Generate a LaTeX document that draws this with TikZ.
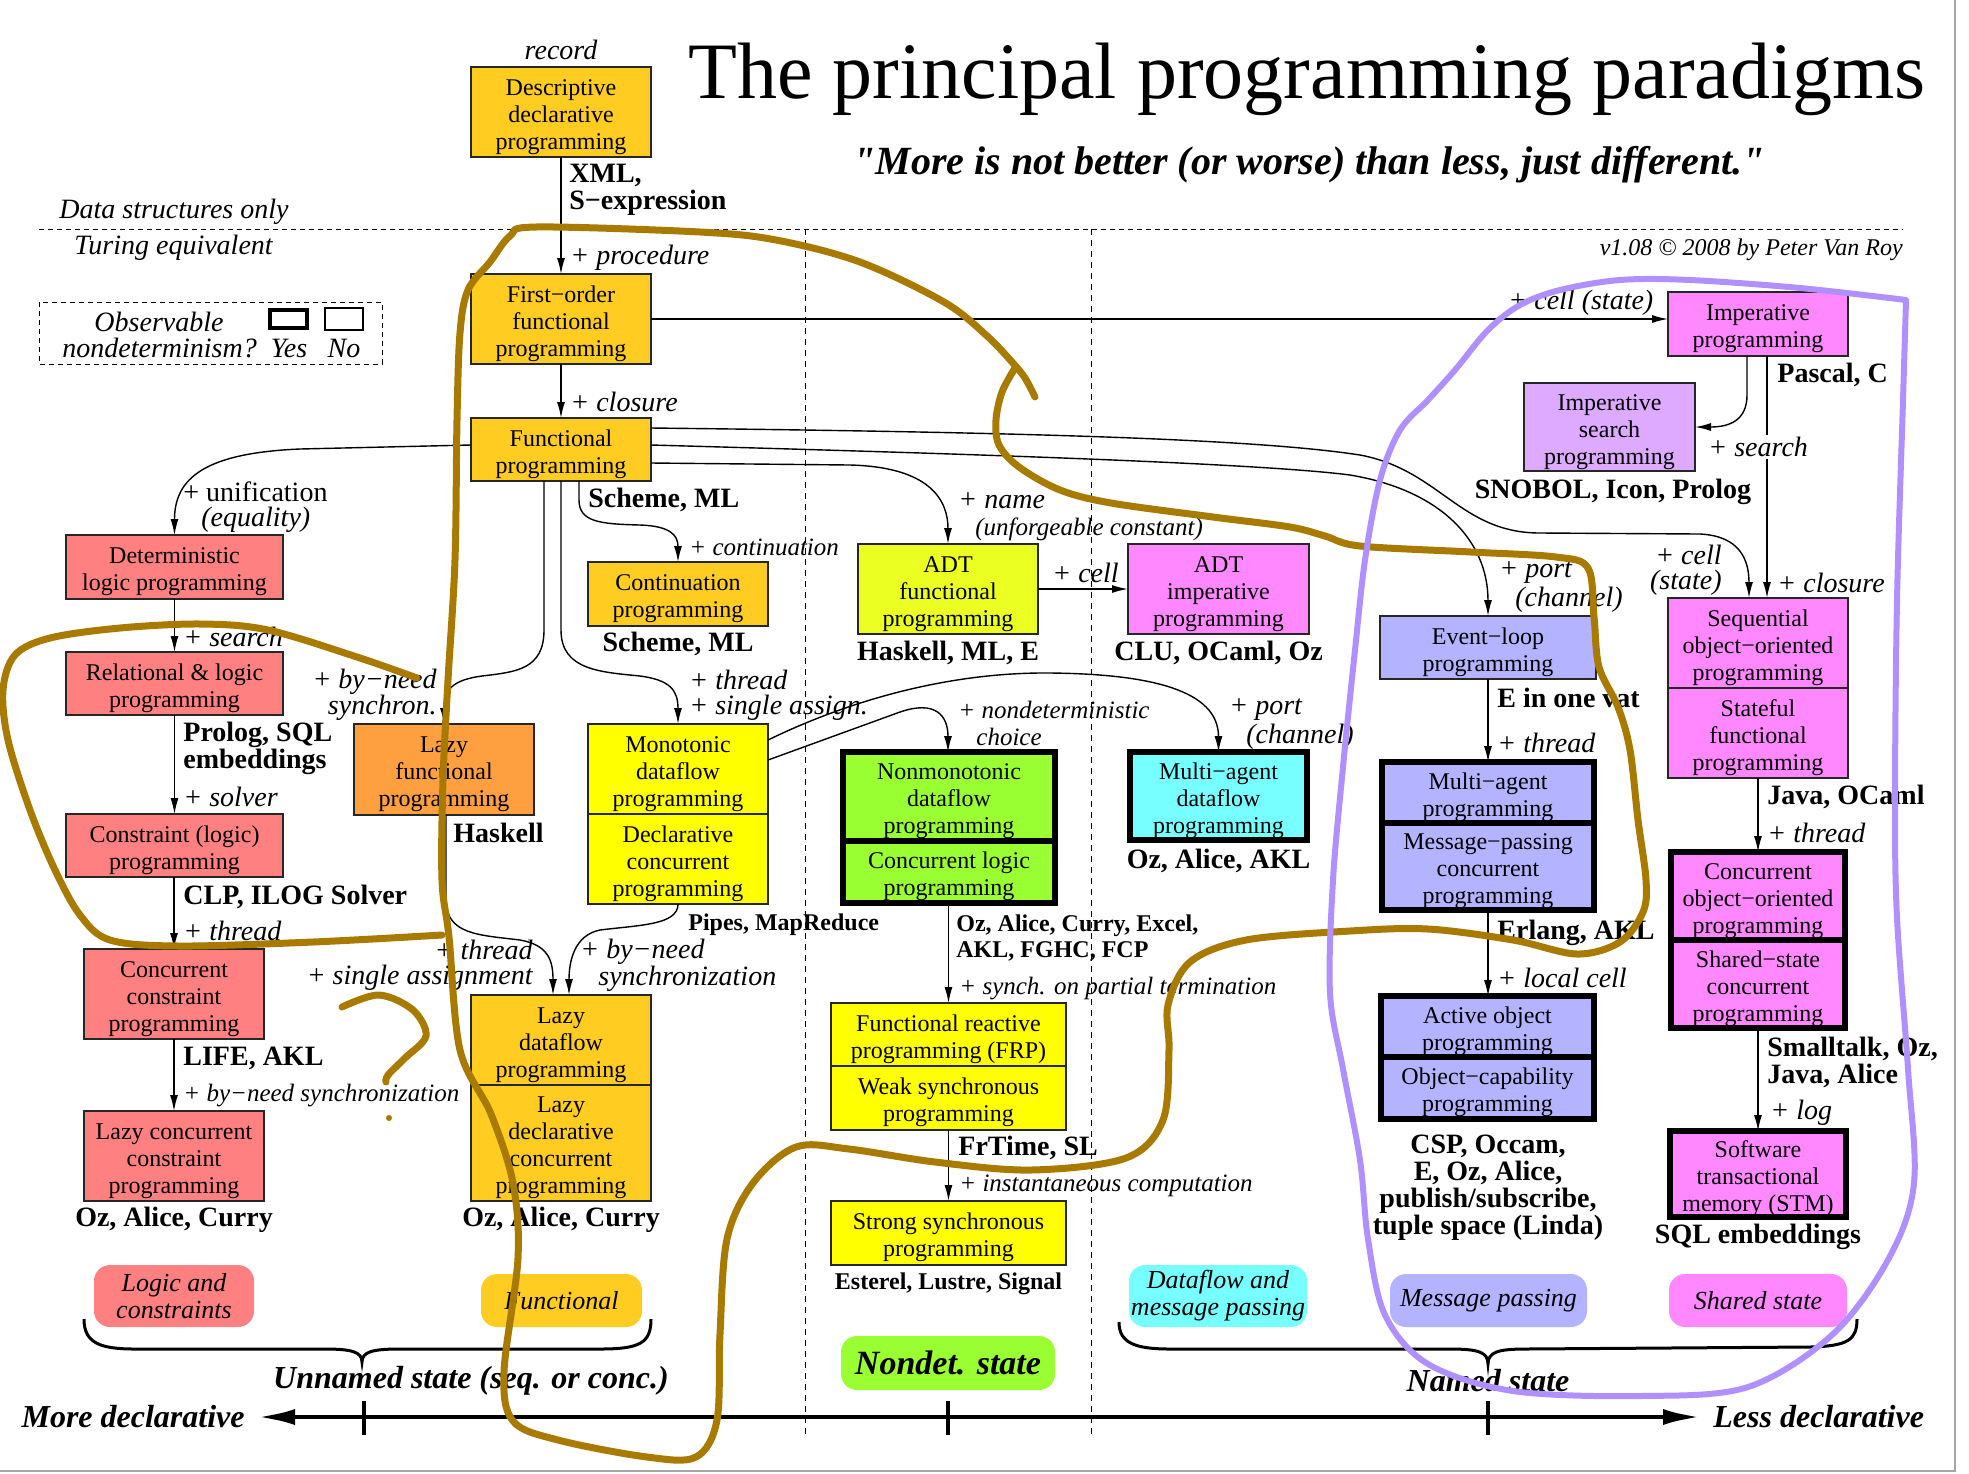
\documentclass[tikz,border=0pt]{standalone}
\usepackage{fontspec}
\setmainfont{Liberation Serif}
\usetikzlibrary{arrows.meta}
\definecolor{cgold}{RGB}{255,204,34}
\definecolor{corange}{RGB}{255,160,64}
\definecolor{cred}{RGB}{255,128,128}
\definecolor{cyel}{RGB}{255,255,0}
\definecolor{cyg}{RGB}{235,255,34}
\definecolor{cmag}{RGB}{255,136,255}
\definecolor{clpur}{RGB}{221,170,255}
\definecolor{clav}{RGB}{179,179,255}
\definecolor{cgreen}{RGB}{153,255,51}
\definecolor{ccyan}{RGB}{119,255,255}
\definecolor{cbrown}{RGB}{168,122,0}
\definecolor{cpurple}{RGB}{176,144,255}
\newcommand\sq{\XeTeXglyph\XeTeXglyphindex "quotedbl"\relax}
\newcommand\T{\rule{0pt}{13pt}}
\tikzset{
  bx/.style={draw=black!85, line width=0.8pt, inner sep=0pt, outer sep=0pt, align=center, font=\fontsize{12pt}{13.5pt}\selectfont},
  tk/.style={draw=black, line width=3pt},
  sz/.style 2 args={minimum width=#1*0.5pt, minimum height=#2*0.5pt},
  ar/.style={-{Latex[length=8pt,width=4pt]}, line width=0.7pt},
  lab/.style={inner sep=0pt, font=\fontsize{14pt}{14pt}\selectfont\itshape},
  rlab/.style={inner sep=0pt, font=\fontsize{14pt}{14pt}\selectfont},
  slab/.style={inner sep=0pt, font=\fontsize{12.5pt}{13.5pt}\selectfont\itshape},
  bl/.style={inner sep=0pt, font=\fontsize{14pt}{13.5pt}\selectfont\bfseries},
  sbl/.style={inner sep=0pt, font=\fontsize{12pt}{13pt}\selectfont\bfseries},
  cat/.style={rounded corners=8pt, inner sep=0pt, align=center, font=\fontsize{13pt}{13.5pt}\selectfont\itshape},
  big/.style={inner sep=0pt, font=\fontsize{16pt}{18pt}\selectfont\bfseries\itshape},
  hand/.style={line width=3.5pt, line cap=round, line join=round, cbrown},
  handp/.style={line width=3pt, line cap=round, line join=round, cpurple}
}
\begin{document}
\begin{tikzpicture}[x=0.5pt,y=-0.5pt]
\useasboundingbox (0,0) rectangle (1969,1473);
% frame
\draw[gray!70, line width=0.6pt] (1955,0) -- (1955,1471) -- (0,1471);
% dashed separators
\draw[line width=0.5pt, dash pattern=on 2.5pt off 2pt] (39,229) -- (1903,229);
\draw[line width=0.5pt, dash pattern=on 3pt off 2.5pt] (805,229) -- (805,1435);
\draw[line width=0.5pt, dash pattern=on 3pt off 2.5pt] (1091,229) -- (1091,1435);

% title
\node[anchor=base west, inner sep=0pt, font=\fontsize{40pt}{44pt}\selectfont] (title) at (688,98) {The principal programming paradigms};
\node[anchor=base, inner sep=0pt, font=\fontsize{20pt}{22pt}\selectfont\bfseries\itshape] (subtitle) at (1309,174) {\sq More is not better (or worse) than less, just different.\sq};
\node[anchor=east, inner sep=0pt, font=\fontsize{12pt}{13pt}\selectfont\itshape] (credit) at (1903,250) {v1.08 © 2008 by Peter Van Roy};
\node[lab, anchor=west] (dso) at (59,212) {Data structures only};
\node[lab, anchor=west] (teq) at (74,248) {Turing equivalent};

% legend
\draw[line width=0.5pt, dash pattern=on 2.5pt off 2pt] (39,302) rectangle (382,364);
\node[lab] (obs) at (159,322) {Observable};
\node[lab, anchor=west] (nondet) at (62,348) {nondeterminism?};
\node[lab] (yes) at (289,348) {Yes};
\node[lab] (no) at (344,348) {No};
\node[draw, line width=2.2pt, inner sep=0pt, sz={37}{18}] (yesbox) at (288.5,319) {};
\node[draw, line width=0.6pt, inner sep=0pt, sz={38}{22}] (nobox) at (344,319) {};

% boxes
\node[bx, fill=cgold, sz={180}{90}] (desc) at (561,112) {\T Descriptive\\declarative\\programming};
\node[lab] (record) at (561,50) {record};
\node[bx, fill=cgold, sz={180}{90}] (fo) at (561,319) {\T First−order\\functional\\programming};
\node[bx, fill=cgold, sz={180}{63}] (func) at (561,449.5) {\T Functional\\programming};
\node[bx, fill=cred, sz={217}{64}] (det) at (174.5,567) {\T Deterministic\\logic programming};
\node[bx, fill=cred, sz={217}{63}] (rel) at (174.5,683.5) {\T Relational \& logic\\programming};
\node[bx, fill=cred, sz={217}{63}] (cons) at (174.5,845.5) {\T Constraint (logic)\\programming};
\node[bx, fill=cred, sz={180}{90}] (ccp) at (174,994) {\T Concurrent\\constraint\\programming};
\node[bx, fill=cred, sz={180}{90}] (lccp) at (174,1156) {\T Lazy concurrent\\constraint\\programming};
\node[bx, fill=corange, sz={180}{91}] (lazyf) at (444,769.5) {\T Lazy\\functional\\programming};
\node[bx, fill=cgold, sz={180}{64}] (cont) at (678,594) {\T Continuation\\programming};
\node[bx, fill=cyel, sz={180}{90}] (mono) at (678,769) {\T Monotonic\\dataflow\\programming};
\node[bx, fill=cyel, sz={180}{90}] (declc) at (678,859) {\T Declarative\\concurrent\\programming};
\node[bx, fill=cgold, sz={180}{90}] (ldf) at (561,1040) {\T Lazy\\dataflow\\programming};
\node[bx, fill=cgold, sz={180}{116}] (ldc) at (561,1143) {\T Lazy\\declarative\\concurrent\\programming};
\node[bx, fill=cyg, sz={180}{90}] (adtf) at (948,589) {\T ADT\\functional\\programming};
\node[bx, fill=cmag, sz={181}{90}] (adti) at (1218.5,589) {\T ADT\\imperative\\programming};
\node[bx, tk, fill=cgreen, sz={212}{89}] (nonmono) at (949,796.5) {\T Nonmonotonic\\dataflow\\programming};
\node[bx, tk, fill=cgreen, sz={212}{62}] (conclog) at (949,872) {\T Concurrent logic\\programming};
\node[bx, tk, fill=ccyan, sz={177}{88}] (mad) at (1218.5,796) {\T Multi−agent\\dataflow\\programming};
\node[bx, fill=cyel, sz={235}{63}] (frp) at (948.5,1034.5) {\T Functional reactive\\programming (FRP)};
\node[bx, fill=cyel, sz={235}{64}] (weak) at (948.5,1098) {\T Weak synchronous\\programming};
\node[bx, fill=cyel, sz={235}{64}] (strong) at (948.5,1233) {\T Strong synchronous\\programming};
\node[bx, fill=cmag, sz={180}{64}] (imp) at (1758,324) {\T Imperative\\programming};
\node[bx, fill=clpur, sz={171}{88}] (imps) at (1609.5,427) {\T Imperative\\search\\programming};
\node[bx, fill=clav, sz={216}{63}] (evl) at (1488,647.5) {\T Event−loop\\programming};
\node[bx, fill=cmag, sz={180}{90}] (seqoo) at (1758,643) {\T Sequential\\object−oriented\\programming};
\node[bx, fill=cmag, sz={180}{90}] (sfp) at (1758,733) {\T Stateful\\functional\\programming};
\node[bx, tk, fill=clav, sz={212}{61}] (map) at (1488,792.5) {\T Multi−agent\\programming};
\node[bx, tk, fill=clav, sz={212}{87}] (mpc) at (1488,866.5) {\T Message−passing\\concurrent\\programming};
\node[bx, tk, fill=cmag, sz={174}{88}] (coo) at (1758,896) {\T Concurrent\\object−oriented\\programming};
\node[bx, tk, fill=cmag, sz={174}{88}] (sscp) at (1758,984) {\T Shared−state\\concurrent\\programming};
\node[bx, tk, fill=clav, sz={213}{61}] (aop) at (1487.5,1026.5) {\T Active object\\programming};
\node[bx, tk, fill=clav, sz={213}{62}] (ocp) at (1487.5,1088) {\T Object−capability\\programming};
\node[bx, tk, fill=cmag, sz={176}{86}] (stm) at (1758,1174) {\T Software\\transactional\\memory (STM)};

% connectors
\draw[ar] (desc) -- (fo);
\draw[ar] (fo) -- (func);
\draw[ar] (fo.east) -- (fo.east -| imp.west);
\draw[ar] (func.west |- 0,445) -- (300,449) .. controls (205,453) and (174.5,478) .. (det.north);
\draw[ar] (det) -- (rel);
\draw[ar] (rel) -- (cons);
\draw[ar] (cons.south -| ccp.north) -- (ccp.north);
\draw[ar] (ccp) -- (lccp);
\draw[ar] (func.south -| 579,0) -- (579,500) .. controls (579,522) and (600,524) .. (640,525) .. controls (670,526) and (678,535) .. (cont.north);
\draw[ar] (func.south) -- (561,630) .. controls (561,670) and (600,672) .. (640,676) .. controls (670,680) and (678,690) .. (mono.north);
\draw[ar] (func.south -| 544,0) -- (544,630) .. controls (544,670) and (515,672) .. (482,676) .. controls (452,680) and (444,690) .. (lazyf.north);
\draw[ar] (lazyf.south -| 446,0) -- (446,900) .. controls (446,935) and (480,935) .. (520,940) .. controls (548,945) and (553,960) .. (ldf.north -| 553,0);
\draw[ar] (declc.south) .. controls (678,925) and (640,925) .. (600,930) .. controls (575,935) and (569,960) .. (ldf.north -| 569,0);
\draw[ar] (func.east |- 0,463) -- (850,465) .. controls (930,467) and (948,500) .. (adtf.north);
\draw[ar] (adtf) -- (adti);
\draw[ar] (mono.east |- 0,760) -- (900,712) .. controls (935,700) and (948,715) .. (nonmono.north -| 948,0);
\draw[ar] (mono.east |- 0,740) .. controls (850,700) and (950,672) .. (1050,673) .. controls (1150,674) and (1218.5,690) .. (mad.north);
\draw[ar] (conclog.south -| frp.north) -- (frp.north);
\draw[ar] (weak) -- (strong);
\draw[ar] (func.east |- 0,445) .. controls (900,452) and (1250,462) .. (1350,475) .. controls (1440,490) and (1488,540) .. (evl.north);
\draw[ar] (func.east |- 0,428) .. controls (1000,432) and (1250,438) .. (1360,455) .. controls (1440,470) and (1460,533) .. (1540,533) -- (1700,534) .. controls (1740,536) and (1749,560) .. (seqoo.north -| 1749,0);
\draw[ar] (imp.south -| 1767,0) -- (seqoo.north -| 1767,0);
\draw[ar] (imp.south -| 1747,0) -- (1747,395) .. controls (1747,420) and (1730,427) .. (imps.east);
\draw[ar] (evl) -- (map);
\draw[ar] (mpc.south) -- (mpc.south |- aop.north);
\draw[ar] (sfp) -- (coo);
\draw[ar] (sscp) -- (stm);

% labels
\node[bl, anchor=west, align=left] (xml) at (569,190) {XML,\\S−expression};
\node[lab, anchor=west] (lproc) at (570,258) {+ procedure};
\node[lab, anchor=west] (lclos) at (570,402) {+ closure};
\node[rlab, anchor=west] (lunif) at (183,492) {+ unification};
\node[lab, anchor=west] (lequ) at (201,520) {(equality)};
\node[lab, anchor=west] (lsearch1) at (183,637) {+ search};
\node[bl, anchor=west, align=left] (prolog) at (183,748) {Prolog, SQL\\embeddings};
\node[lab, anchor=west] (lsolver) at (183,797) {+ solver};
\node[bl, anchor=west] (clp) at (183,897) {CLP, ILOG Solver};
\node[lab, anchor=west] (lthr1) at (183,931) {+ thread};
\node[bl, anchor=west] (life) at (183,1058) {LIFE, AKL};
\node[slab, anchor=west] (lbyneed1) at (183,1096) {+ by−need synchronization};
\node[bl] (ozac1) at (174,1220) {Oz, Alice, Curry};
\node[lab, anchor=east] (lbn2a) at (437,682) {+ by−need};
\node[lab, anchor=east] (lbn2b) at (437,708) {synchron.};
\node[bl, anchor=west] (haskell) at (453,833) {Haskell};
\node[bl, anchor=west] (schml1) at (588,500) {Scheme, ML};
\node[slab, anchor=west] (lcont) at (689,547) {+ continuation};
\node[bl] (schml2) at (678,644) {Scheme, ML};
\node[lab, anchor=west] (lthr2) at (689,680) {+ thread};
\node[lab, anchor=west] (lsa) at (689,708) {+ single assign.};
\node[lab, anchor=west] (lname) at (958,501) {+ name};
\node[slab, anchor=west] (lunf) at (975,529) {(unforgeable constant)};
\node[bl] (hmle) at (948,653) {Haskell, ML, E};
\node[lab, anchor=west] (lcell1) at (1052,573) {+ cell};
\node[bl] (clu) at (1218.5,653) {CLU, OCaml, Oz};
\node[slab, anchor=west] (lndc) at (958,710) {+ nondeterministic};
\node[slab, anchor=west] (lchoice) at (976,737) {choice};
\node[lab, anchor=west] (lport1) at (1229,710) {+ port};
\node[lab, anchor=west] (lchan1) at (1246,737) {(channel)};
\node[bl] (ozaakl) at (1218.5,861) {Oz, Alice, AKL};
\node[sbl, anchor=west] (pipes) at (688,925) {Pipes, MapReduce};
\node[sbl, anchor=west, align=left] (ozexcel) at (956,938) {Oz, Alice, Curry, Excel,\\AKL, FGHC, FCP};
\node[slab, anchor=west] (lsynch) at (959,989) {+ synch. on partial termination};
\node[bl, anchor=west] (frtime) at (958,1148) {FrTime, SL};
\node[slab, anchor=west] (linst) at (959,1186) {+ instantaneous computation};
\node[sbl] (esterel) at (948.5,1284) {Esterel, Lustre, Signal};
\node[lab, anchor=east] (lthr3) at (533,950) {+ thread};
\node[lab, anchor=east] (lsa2) at (533,978) {+ single assignment};
\node[lab, anchor=west] (lbn3a) at (580,952) {+ by−need};
\node[lab, anchor=west] (lbn3b) at (598,979) {synchronization};
\node[bl] (ozac2) at (561,1220) {Oz, Alice, Curry};
\node[lab, anchor=west] (lcellst) at (1508,303) {+ cell (state)};
\node[bl, anchor=west] (pascal) at (1777,375) {Pascal, C};
\node[lab, anchor=west, fill=white, inner sep=1pt] (lsearch2) at (1706,447) {+ search};
\node[bl] (snobol) at (1613,492) {SNOBOL, Icon, Prolog};
\node[lab, anchor=east] (lcell2) at (1722,555) {+ cell};
\node[lab, anchor=east] (lstate) at (1722,583) {(state)};
\node[lab, anchor=west] (lclos2) at (1777,583) {+ closure};
\node[lab, anchor=west] (lport2) at (1499,573) {+ port};
\node[lab, anchor=west] (lchan2) at (1515,600) {(channel)};
\node[bl, anchor=west] (evat) at (1497,698) {E in one vat};
\node[lab, anchor=west] (lthr4) at (1497,743) {+ thread};
\node[bl, anchor=west] (javaoc) at (1767,797) {Java, OCaml};
\node[lab, anchor=west] (lthr5) at (1767,833) {+ thread};
\node[bl, anchor=west] (erlang) at (1497,933) {Erlang, AKL};
\node[lab, anchor=west] (llocal) at (1497,978) {+ local cell};
\node[bl, align=center] (csp) at (1488,1188) {CSP, Occam,\\E, Oz, Alice,\\publish/subscribe,\\tuple space (Linda)};
\node[bl, anchor=west, align=left] (smalltalk) at (1767,1062) {Smalltalk, Oz,\\Java, Alice};
\node[lab, anchor=west] (llog) at (1770,1113) {+ log};
\node[bl] (sqlemb) at (1758,1237) {SQL embeddings};

% category tags
\node[cat, fill=cred, sz={160}{62}] (tlogic) at (174,1296) {Logic and\\constraints};
\node[cat, fill=cgold, sz={161}{53}] (tfunc) at (561.5,1300.5) {Functional};
\node[cat, fill=cgreen, sz={214}{54}, font=\fontsize{17pt}{18pt}\selectfont\bfseries\itshape] (tnondet) at (948,1363) {Nondet. state};
\node[cat, fill=ccyan, sz={178}{62}] (tdmp) at (1218,1296) {Dataflow and\\message passing};
\node[cat, fill=clav, sz={197}{53}] (tmp) at (1488.5,1300.5) {Message passing};
\node[cat, fill=cmag, sz={178}{53}] (tss) at (1758,1300.5) {Shared state};

% braces
\draw[line width=1.5pt] (84,1319) .. controls (84,1343) and (100,1349) .. (135,1349) -- (325,1349) .. controls (352,1349) and (362,1352) .. (362,1362) .. controls (362,1352) and (372,1349) .. (399,1349) -- (600,1349) .. controls (640,1349) and (651,1343) .. (651,1319);
\draw[line width=1.5pt] (1119,1322) .. controls (1119,1343) and (1135,1349) .. (1170,1349) -- (1450,1349) .. controls (1478,1349) and (1488,1352) .. (1488,1364) .. controls (1488,1352) and (1498,1349) .. (1526,1349) -- (1810,1347) .. controls (1848,1346) and (1857,1340) .. (1857,1319);
\node[big] (unnamed) at (471,1381) {Unnamed state (seq. or conc.)};
\node[big] (named) at (1488,1381) {Named state};

% axis
\coordinate (axl) at (257,1417);
\coordinate (axr) at (1701,1417);
\draw[line width=2.4pt, {Latex[length=19pt,width=8pt]}-{Latex[length=19pt,width=8pt]}] (axl) -- (axr);
\draw[line width=2.4pt] (364,1401) -- (364,1435);
\draw[line width=2.4pt] (948,1401) -- (948,1435);
\draw[line width=2.4pt] (1488,1401) -- (1488,1435);
\node[big, anchor=east] (moredecl) at (245,1417) {More declarative};
\node[big, anchor=west] (lessdecl) at (1713,1417) {Less declarative};

% hand drawn marks
\draw[hand] plot[smooth, tension=0.55] coordinates {(1015,368) (1002,392) (996,420) (999,445) (1019,467) (1060,490) (1111,503) (1213,517) (1290,527) (1325,536) (1360,546) (1471,552) (1556,557) (1588,568) (1594,617) (1599,667) (1618,707) (1630,750) (1638,820) (1646,880) (1643,912) (1620,942) (1577,954) (1513,940) (1428,929) (1350,931) (1246,940) (1190,962) (1168,1005) (1169,1050) (1163,1120) (1126,1158) (1031,1170) (935,1162) (849,1149) (796,1147) (753,1183) (727,1239) (720,1334) (717,1420) (696,1457) (647,1457) (558,1440) (513,1421) (504,1372) (518,1258) (513,1183) (491,1114) (460,1050) (449,937) (442,880) (443,780) (448,680) (455,560) (457,420) (460,333) (468,290) (490,262) (510,236) (536,227) (700,232) (776,240) (860,262) (944,302) (986,335) (1012,362) (1025,378) (1035,397)};
\draw[hand] plot[smooth, tension=0.55] coordinates {(417,678) (357,657) (268,630) (201,624) (120,628) (50,638) (15,655) (3,690) (8,740) (30,810) (55,870) (80,915) (110,940) (179,946) (313,942) (442,935)};
\draw[hand] plot[smooth, tension=0.55] coordinates {(342,1007) (379,995) (413,1010) (426,1036) (405,1058) (388,1075) (386,1082)};
\fill[cbrown] (389,1118) circle (1.5pt);
\draw[handp] plot[smooth, tension=0.55] coordinates {(1906,300) (1800,288) (1690,280) (1620,280) (1560,290) (1520,305) (1488,330) (1455,370) (1428,400) (1400,430) (1380,480) (1365,560) (1355,650) (1343,767) (1333,880) (1330,993) (1343,1069) (1360,1160) (1368,1239) (1385,1315) (1428,1364) (1513,1391) (1641,1396) (1748,1387) (1833,1334) (1889,1258) (1914,1183) (1908,1069) (1897,918) (1895,800) (1897,600) (1903,400) (1906,300)};
\end{tikzpicture}
\end{document}
